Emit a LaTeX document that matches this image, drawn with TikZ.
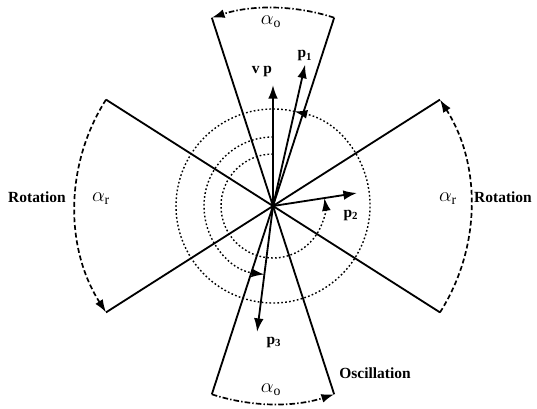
\documentclass[tikz,border=0pt]{standalone}
\usepackage{fontspec}
\setmainfont{Liberation Serif}
\usetikzlibrary{arrows.meta}

\begin{document}
\begin{tikzpicture}[
    x = 0.025cm, y = 0.025cm,
    every node/.style = {font = \fontsize{11}{13}\selectfont\bfseries},
    axis/.style   = {line width = 1.3pt},
    vec/.style    = {line width = 1.3pt, -{Latex[length=3.4mm, width=2.4mm]}},
    ring/.style   = {line width = 1pt, dash pattern = on 1.2pt off 1.6pt},
    track/.style  = {ring, -{Latex[length=3.2mm, width=2.2mm]}},
    rot/.style    = {line width = 1.2pt, dash pattern = on 3.5pt off 2pt, -{Latex[length=3.2mm, width=2.2mm]}},
    osc/.style    = {line width = 1.2pt, dash pattern = on 4pt off 1.5pt on 1pt off 1.5pt, -{Latex[length=3.2mm, width=2.2mm]}},
    anglab/.style = {font = \fontsize{14}{16}\selectfont},
]
\def\R{198}
\useasboundingbox (-273,-202) rectangle (264,206);

% ---------- sector boundaries ----------
\coordinate (O)     at (0,0);
\coordinate (oscTL) at (108:\R);
\coordinate (oscTR) at (72:\R);
\coordinate (oscBL) at (252:\R);
\coordinate (oscBR) at (288:\R);
\coordinate (rotTL) at (147.5:\R);
\coordinate (rotBL) at (212.5:\R);
\coordinate (rotTR) at (32.5:\R);
\coordinate (rotBR) at (327.5:\R);

\draw[axis] (oscTL) -- (oscBR);
\draw[axis] (oscTR) -- (oscBL);
\draw[axis] (rotTL) -- (rotBR);
\draw[axis] (rotTR) -- (rotBL);

% ---------- swept angles ----------
\draw[osc] (oscTR) arc[start angle=72, end angle=108, radius=\R];
\draw[osc] (oscBL) arc[start angle=252, end angle=288, radius=\R];
\draw[rot] (rotTL) arc[start angle=147.5, end angle=212.5, radius=\R];
\draw[rot] (rotBR) arc[start angle=-32.5, end angle=32.5, radius=\R];

% ---------- vectors ----------
\coordinate (vp) at (90:121);
\coordinate (p1) at (77.2:145);
\coordinate (p2) at (8.8:85);
\coordinate (p3) at (262.8:127);

\draw[vec] (O) -- (vp);
\draw[vec] (O) -- (p1);
\draw[vec] (O) -- (p2);
\draw[vec] (O) -- (p3);

% ---------- dotted turns ----------
\coordinate (ringA) at (77.2:97);
\coordinate (ringB) at (90:69);
\coordinate (ringC) at (90:52);

\draw[track] (ringA) arc[start angle=77.2, end angle=437.2, radius=97];
\draw[track] (ringB) arc[start angle=90, end angle=262.8, radius=69];
\draw[track] (ringC) arc[start angle=90, end angle=368.8, radius=52];

% ---------- labels ----------
\node (vplab)  at (-11,134) {v p};
\node (p1lab)  at (32,150)  {p\textsubscript{1}};
\node (p2lab)  at (78,-9)   {p\textsubscript{2}};
\node (p3lab)  at (1,-136)  {p\textsubscript{3}};

\node[anglab] (aoT) at (-2,184)  {$\alpha_{\mathrm{o}}$};
\node[anglab] (aoB) at (-2,-184) {$\alpha_{\mathrm{o}}$};
\node[anglab] (arL) at (-172,7)  {$\alpha_{\mathrm{r}}$};
\node[anglab] (arR) at (175,7)   {$\alpha_{\mathrm{r}}$};

\node (rotL) at (-236,9)   {Rotation};
\node (rotR) at (230,9)    {Rotation};
\node (oscl) at (102,-167) {Oscillation};

\end{tikzpicture}
\end{document}
